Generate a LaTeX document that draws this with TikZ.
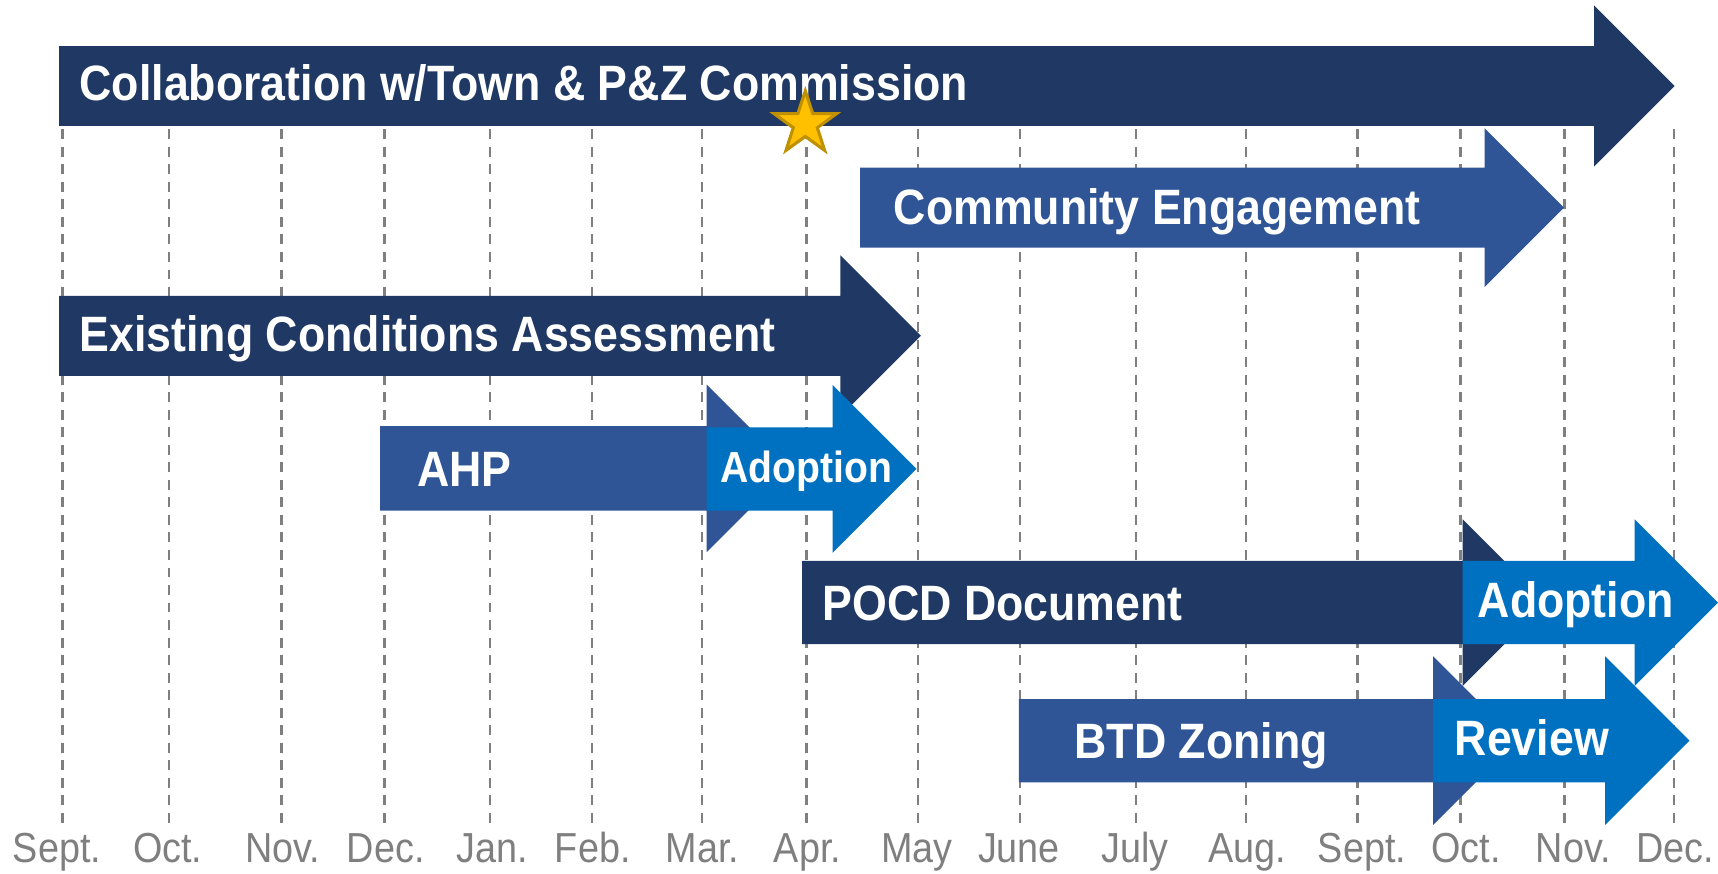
\documentclass[tikz,border=0pt]{standalone}
\usepackage{fontspec}
\setmainfont[FakeStretch=0.9]{Liberation Sans}
\usepackage{tikz}
\usetikzlibrary{shapes.geometric}

\definecolor{navy}{HTML}{203864}
\definecolor{midblue}{HTML}{2F5597}
\definecolor{brightblue}{HTML}{0070C0}
\definecolor{monthgray}{HTML}{7F7F7F}
\definecolor{stargold}{HTML}{FFC000}
\definecolor{staredge}{HTML}{BF9000}

% start, head start, centre, half bar, half head, colour
\newcommand{\phasearrow}[6]{%
  \fill[#6] (#1,#3-#4) -- (#2,#3-#4) -- (#2,#3-#5) -- (#2+#5,#3)
    -- (#2,#3+#5) -- (#2,#3+#4) -- (#1,#3+#4) -- cycle;}

\begin{document}
\begin{tikzpicture}[
    x=0.1mm, y=-0.1mm,
    every node/.style={inner sep=0pt, text=white},
    phase/.style={anchor=base west, font=\bfseries\fontsize{12.9}{15}\selectfont},
    month/.style={anchor=base, text=monthgray, font=\fontsize{10.9}{13}\selectfont},
    gridline/.style={monthgray, dash pattern=on 0.9mm off 0.7mm, line width=0.6pt}
  ]
  \useasboundingbox (0,0) rectangle (1568,797);

  \foreach \lx/\mx/\m [count=\i] in {57/52/Sept., 154/153/Oct., 257/258/Nov., 351/352/Dec.,
      447/449/Jan., 540/541/Feb., 641/641/Mar., 736/737/Apr., 838/837/May, 931/930/June,
      1037/1036/July, 1137/1138/Aug., 1239/1243/Sept., 1333/1338/Oct., 1428/1436/Nov., 1528/1529/Dec.} {
    \coordinate (top\i) at (\lx,118);
    \coordinate (bot\i) at (\lx,752);
    \draw[gridline] (top\i) -- (bot\i);
    \node[month] (m\i) at (\mx,787) {\m};
  }

  \phasearrow{54}{1455}{78.5}{36.5}{73.5}{navy}
  \phasearrow{785}{1355}{189.5}{36.5}{72.5}{midblue}
  \phasearrow{54}{767}{306.5}{36.5}{73.5}{navy}
  \phasearrow{347}{645}{427.5}{38.5}{76.5}{midblue}
  \phasearrow{645}{760}{428}{38}{76.5}{brightblue}
  \phasearrow{732}{1335}{550}{38}{76}{navy}
  \phasearrow{1335}{1492}{550}{38}{76}{brightblue}
  \phasearrow{930}{1308}{676}{38}{77}{midblue}
  \phasearrow{1308}{1465}{676}{38}{77}{brightblue}

  \node (collab) [phase] at (72,92) {Collaboration w/Town \& P\&Z Commission};
  \node (engage) [phase] at (815,205) {Community Engagement};
  \node (exist) [phase] at (72,321) {Existing Conditions Assessment};
  \node (ahp) [phase] at (380,444) {AHP};
  \node (adopt1) [phase, font=\bfseries\fontsize{11.3}{13}\selectfont] at (657,440) {Adoption};
  \node (pocd) [phase] at (750,566) {POCD Document};
  \node (adopt2) [phase] at (1348,564) {Adoption};
  \node (btd) [phase] at (980,692) {BTD Zoning};
  \node (review) [phase] at (1327,690) {Review};

  \node (milestone) [star, star points=5, star point ratio=2.6, minimum size=6mm,
    fill=stargold, draw=staredge, line width=0.8pt] at (735,113) {};
\end{tikzpicture}
\end{document}
